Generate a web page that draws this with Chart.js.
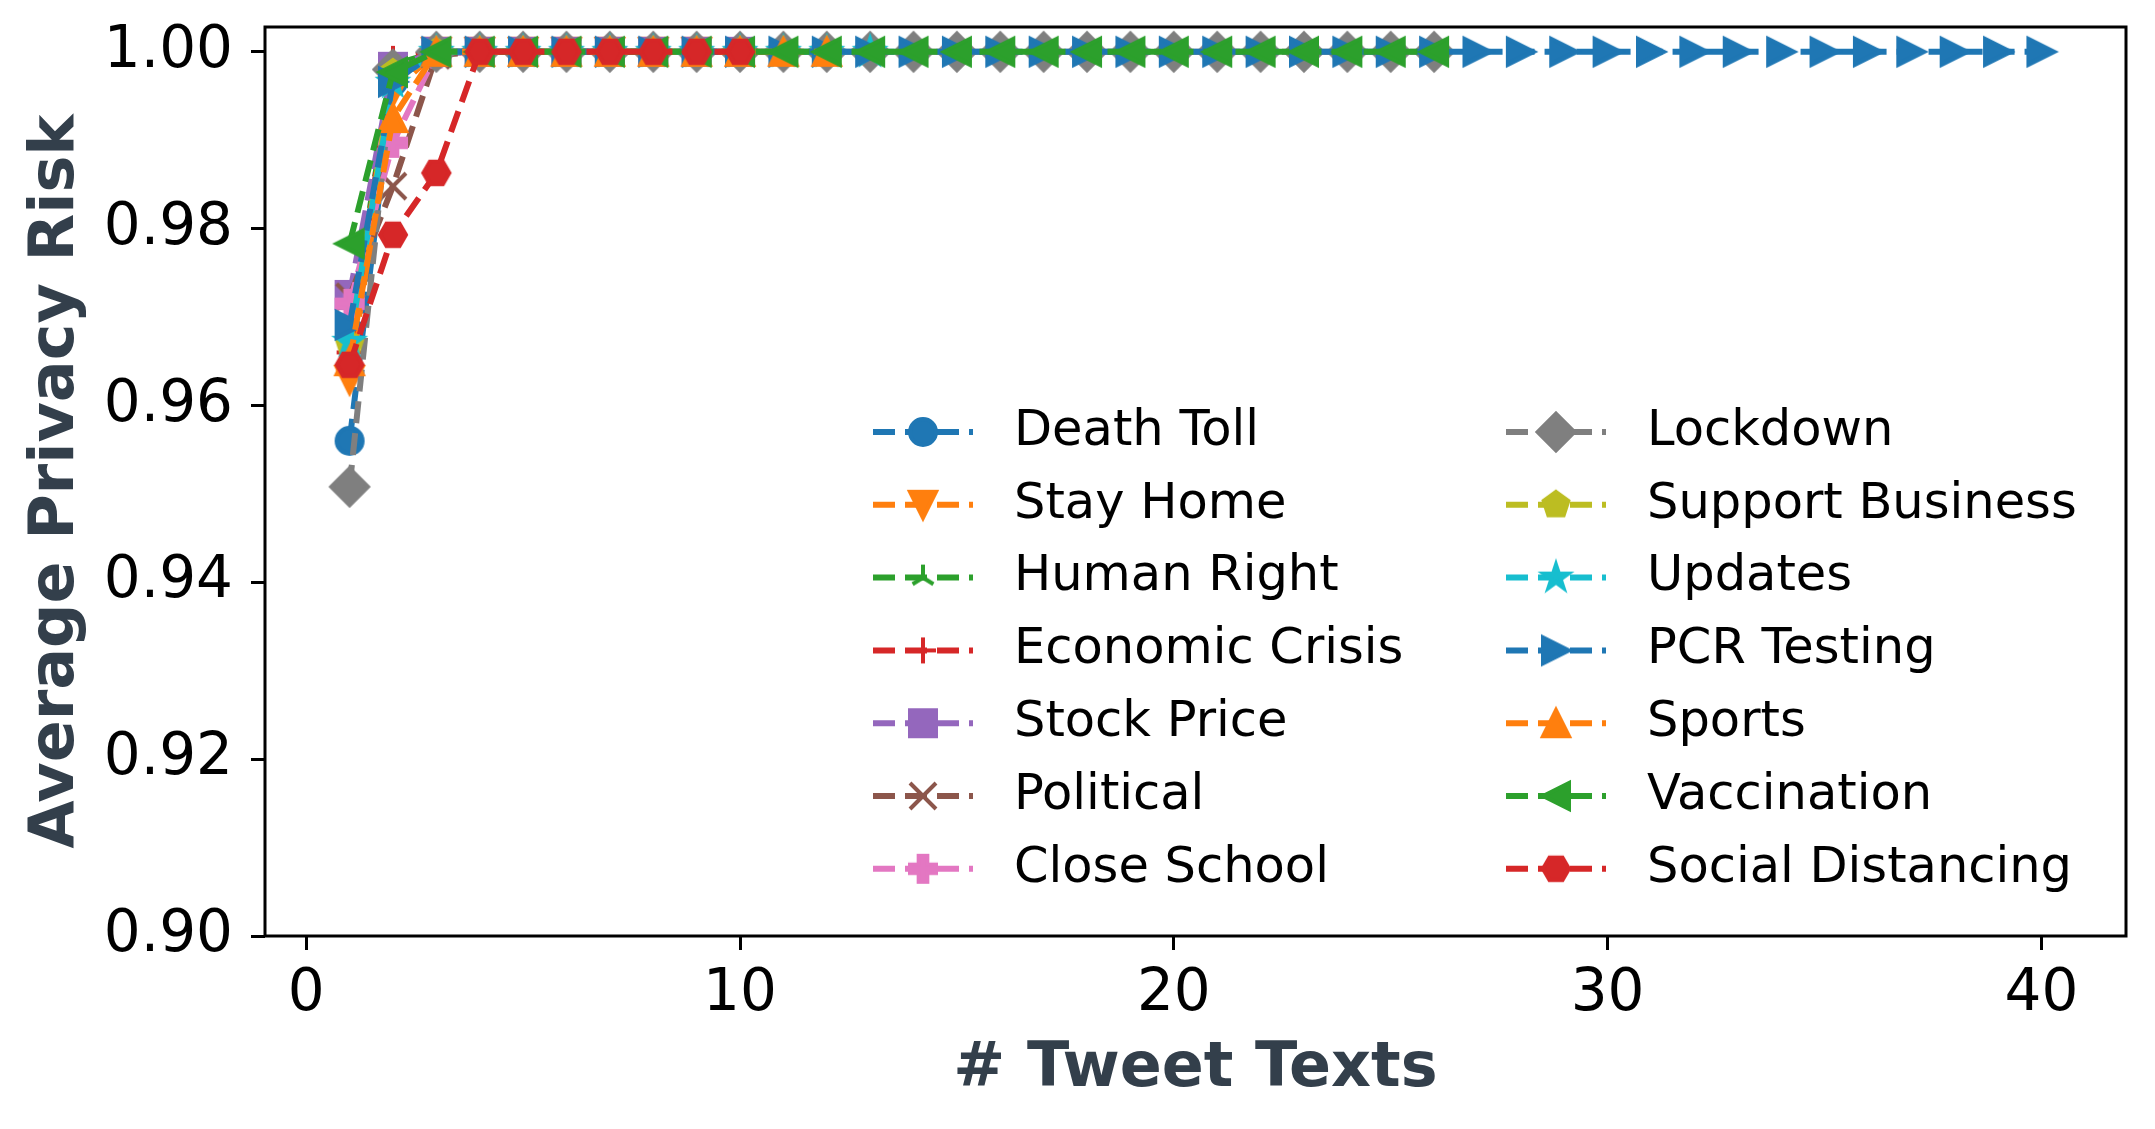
<!DOCTYPE html>
<html>
<head>
<meta charset="utf-8">
<script src="https://cdn.jsdelivr.net/npm/chart.js@4.4.0/dist/chart.umd.min.js"></script>
<style>
  html, body { margin: 0; padding: 0; background: #fff; }
</style>
</head>
<body>
<canvas id="myChart" width="2155" height="1129"></canvas>
<script>
const tweetCounts = [1, 2, 3, 4, 5, 6, 7, 8, 9, 10, 11, 12, 13, 14, 15, 16, 17, 18, 19, 20,
  21, 22, 23, 24, 25, 26, 27, 28, 29, 30, 31, 32, 33, 34, 35, 36, 37, 38, 39, 40];

const topics = ["Death Toll", "Stay Home", "Human Right", "Economic Crisis", "Stock Price",
  "Political", "Close School", "Lockdown", "Support Business", "Updates", "PCR Testing",
  "Sports", "Vaccination", "Social Distancing"];

const deathToll = [0.9560, 0.9966, 0.9998, 1.0, 1.0, 1.0, 1.0, 1.0, 1.0, 1.0];
const stayHome = [0.9629, 0.9955, 1.0, 1.0, 1.0, 1.0, 1.0, 1.0, 1.0];
const humanRight = [0.9680, 0.9985, 1.0, 1.0, 1.0, 1.0, 1.0, 1.0];
const economicCrisis = [0.9660, 0.9992, 1.0, 1.0, 1.0, 1.0, 1.0];
const stockPrice = [0.9725, 0.9983, 1.0, 1.0, 1.0, 1.0, 1.0, 1.0, 1.0, 1.0];
const political = [0.9723, 0.9848, 0.9996, 1.0, 1.0, 1.0, 1.0, 1.0];
const closeSchool = [0.9715, 0.9897, 0.9998, 1.0, 1.0, 1.0, 1.0, 1.0, 1.0];
const lockdown = [0.9508, 0.9980, 1.0, 1.0, 1.0, 1.0, 1.0, 1.0, 1.0, 1.0, 1.0, 1.0, 1.0,
  1.0, 1.0, 1.0, 1.0, 1.0, 1.0, 1.0, 1.0, 1.0, 1.0, 1.0, 1.0, 1.0];
const supportBusiness = [0.9669, 0.9976, 1.0, 1.0, 1.0, 1.0, 1.0, 1.0, 1.0, 1.0];
const updates = [0.9672, 0.9965, 1.0, 1.0, 1.0, 1.0, 1.0, 1.0, 1.0, 1.0, 1.0, 1.0, 1.0];
const pcrTesting = [0.9691, 0.9966, 1.0, 1.0, 1.0, 1.0, 1.0, 1.0, 1.0, 1.0, 1.0, 1.0, 1.0,
  1.0, 1.0, 1.0, 1.0, 1.0, 1.0, 1.0, 1.0, 1.0, 1.0, 1.0, 1.0, 1.0, 1.0, 1.0, 1.0, 1.0,
  1.0, 1.0, 1.0, 1.0, 1.0, 1.0, 1.0, 1.0, 1.0, 1.0];
const sports = [0.9650, 0.9925, 1.0, 1.0, 1.0, 1.0, 1.0, 1.0, 1.0, 1.0, 1.0, 1.0];
const vaccination = [0.9783, 0.9977, 1.0, 1.0, 1.0, 1.0, 1.0, 1.0, 1.0, 1.0, 1.0, 1.0, 1.0,
  1.0, 1.0, 1.0, 1.0, 1.0, 1.0, 1.0, 1.0, 1.0, 1.0, 1.0, 1.0, 1.0];
const socialDistancing = [0.9646, 0.9793, 0.9863, 1.0, 1.0, 1.0, 1.0, 1.0, 1.0, 1.0];

const seriesValues = [deathToll, stayHome, humanRight, economicCrisis, stockPrice, political,
  closeSchool, lockdown, supportBusiness, updates, pcrTesting, sports, vaccination, socialDistancing];
const seriesColors = ["#1f77b4", "#ff7f0e", "#2ca02c", "#d62728", "#9467bd", "#8c564b",
  "#e377c2", "#7f7f7f", "#bcbd22", "#17becf", "#1f77b4", "#ff7f0e", "#2ca02c", "#d62728"];
const seriesMarkers = ["o", "v", "2", "+", "s", "x", "P", "D", "p", "*", ">", "^", "<", "H"];

const xTicks = [0, 10, 20, 30, 40];
const yTicks = [0.90, 0.92, 0.94, 0.96, 0.98, 1.00];

const titleColor = "#333f4b";
const fontName = "'DejaVu Sans', sans-serif";

function poly(g, pts) {
  g.moveTo(pts[0][0], pts[0][1]);
  for (let i = 1; i < pts.length; i++) g.lineTo(pts[i][0], pts[i][1]);
  g.closePath();
}

function regular(n, r, startDeg, inner) {
  const pts = [];
  const count = inner ? n * 2 : n;
  for (let i = 0; i < count; i++) {
    const a = (startDeg + i * 360 / count) * Math.PI / 180;
    const rr = inner && i % 2 ? r * inner : r;
    pts.push([rr * Math.cos(a), rr * Math.sin(a)]);
  }
  return pts;
}

// matplotlib-like marker drawn on a small canvas, used as pointStyle
function makeMarker(shape, color) {
  const c = document.createElement("canvas");
  c.width = 46; c.height = 46;
  const g = c.getContext("2d");
  const r = 13;
  g.translate(23, 23);
  g.fillStyle = color;
  g.strokeStyle = color;
  g.lineWidth = 4;
  g.lineJoin = "miter";
  g.beginPath();
  let filled = true;
  if (shape == "o") g.arc(0, 0, r, 0, Math.PI * 2);
  else if (shape == "v") poly(g, [[0, r], [-r, -r], [r, -r]]);
  else if (shape == "^") poly(g, [[0, -r], [-r, r], [r, r]]);
  else if (shape == ">") poly(g, [[r, 0], [-r, -r], [-r, r]]);
  else if (shape == "<") poly(g, [[-r, 0], [r, -r], [r, r]]);
  else if (shape == "s") poly(g, [[-r, -r], [r, -r], [r, r], [-r, r]]);
  else if (shape == "D") {
    const d = r * Math.SQRT2;
    poly(g, [[0, -d], [d, 0], [0, d], [-d, 0]]);
  }
  else if (shape == "P") {
    const a = r / 3;
    poly(g, [[-a, -r], [a, -r], [a, -a], [r, -a], [r, a], [a, a], [a, r], [-a, r], [-a, a], [-r, a], [-r, -a], [-a, -a]]);
  }
  else if (shape == "p") poly(g, regular(5, r, -90));
  else if (shape == "H") poly(g, regular(6, r, 0));
  else if (shape == "*") poly(g, regular(5, r, -90, 0.381966));
  else {
    filled = false;
    g.lineCap = "butt";
    if (shape == "+") {
      g.moveTo(-r, 0); g.lineTo(r, 0); g.moveTo(0, -r); g.lineTo(0, r);
    } else if (shape == "x") {
      g.moveTo(-r, -r); g.lineTo(r, r); g.moveTo(-r, r); g.lineTo(r, -r);
    } else if (shape == "2") {
      g.moveTo(0, 0); g.lineTo(0, -r);
      g.moveTo(0, 0); g.lineTo(-0.8 * r, 0.5 * r);
      g.moveTo(0, 0); g.lineTo(0.8 * r, 0.5 * r);
    }
  }
  if (filled) g.fill();
  g.stroke();
  return c;
}

const datasets = topics.map((name, i) => ({
  label: name,
  data: seriesValues[i].map((v, j) => ({ x: tweetCounts[j], y: v })),
  borderColor: seriesColors[i],
  backgroundColor: seriesColors[i],
  borderWidth: 6,
  borderDash: [22, 10],
  borderJoinStyle: "round",
  pointStyle: makeMarker(seriesMarkers[i], seriesColors[i]),
  pointRadius: 15,
  pointHoverRadius: 15,
  tension: 0,
  fill: false,
  order: topics.length - i
}));

const legendCols = [873, 1506];
const legendTop = 432;
const legendRowGap = 72.8;
const handleLen = 100;

const topicLegend = {
  id: "topicLegend",
  afterDraw(chart) {
    const ctx = chart.ctx;
    ctx.save();
    chart.data.datasets.forEach((ds, i) => {
      const x0 = legendCols[Math.floor(i / 7)];
      const y = legendTop + (i % 7) * legendRowGap;
      ctx.strokeStyle = ds.borderColor;
      ctx.lineWidth = ds.borderWidth;
      ctx.lineCap = "butt";
      ctx.setLineDash(ds.borderDash);
      ctx.beginPath();
      ctx.moveTo(x0, y);
      ctx.lineTo(x0 + handleLen, y);
      ctx.stroke();
      ctx.setLineDash([]);
      const img = ds.pointStyle;
      ctx.drawImage(img, x0 + handleLen / 2 - img.width / 2, y - img.height / 2);
      ctx.fillStyle = "#000";
      ctx.font = "49.5px " + fontName;
      ctx.textBaseline = "middle";
      ctx.textAlign = "left";
      ctx.fillText(ds.label, x0 + handleLen + 41, y);
    });
    ctx.restore();
  }
};

const frame = {
  id: "frame",
  afterDatasetsDraw(chart) {
    const a = chart.chartArea;
    const ctx = chart.ctx;
    ctx.save();
    ctx.strokeStyle = "#000";
    ctx.lineWidth = 3;
    ctx.strokeRect(a.left, a.top, a.right - a.left, a.bottom - a.top);
    ctx.restore();
  }
};

const ctx = document.getElementById("myChart");

new Chart(ctx, {
  type: "line",
  data: { datasets: datasets },
  plugins: [frame, topicLegend],
  options: {
    responsive: false,
    animation: false,
    devicePixelRatio: 1,
    layout: { padding: { top: 27, right: 29, left: 0, bottom: 0 } },
    plugins: {
      legend: { display: false },
      tooltip: { enabled: false }
    },
    scales: {
      x: {
        type: "linear",
        min: -0.95,
        max: 41.95,
        afterBuildTicks: (axis) => { axis.ticks = xTicks.map(v => ({ value: v })); },
        afterFit: (axis) => {
          axis.height = 193;
          axis.paddingLeft = 0; axis.paddingRight = 0;
          axis.paddingTop = 0; axis.paddingBottom = 0;
        },
        ticks: {
          color: "#000",
          font: { family: fontName, size: 58 },
          padding: 10,
          maxRotation: 0,
          callback: (v) => String(v)
        },
        grid: { drawOnChartArea: false, drawTicks: true, tickLength: 14, color: "#000", lineWidth: 3 },
        border: { display: false },
        title: {
          display: true,
          text: "# Tweet Texts",
          color: titleColor,
          font: { family: fontName, size: 62, weight: "bold", lineHeight: 1.2 },
          padding: { top: 0, bottom: 22 }
        }
      },
      y: {
        type: "linear",
        min: 0.90,
        max: 1.0028,
        afterBuildTicks: (axis) => { axis.ticks = yTicks.map(v => ({ value: v })); },
        afterFit: (axis) => {
          axis.width = 265;
          axis.paddingLeft = 0; axis.paddingRight = 0;
          axis.paddingTop = 0; axis.paddingBottom = 0;
        },
        ticks: {
          color: "#000",
          font: { family: fontName, size: 58 },
          padding: 18,
          callback: (v) => Number(v).toFixed(2)
        },
        grid: { drawOnChartArea: false, drawTicks: true, tickLength: 14, color: "#000", lineWidth: 3 },
        border: { display: false },
        title: {
          display: true,
          text: "Average Privacy Risk",
          color: titleColor,
          font: { family: fontName, size: 62, weight: "bold", lineHeight: 1.2 },
          padding: { top: 20, bottom: 0 }
        }
      }
    }
  }
});
</script>
</body>
</html>
